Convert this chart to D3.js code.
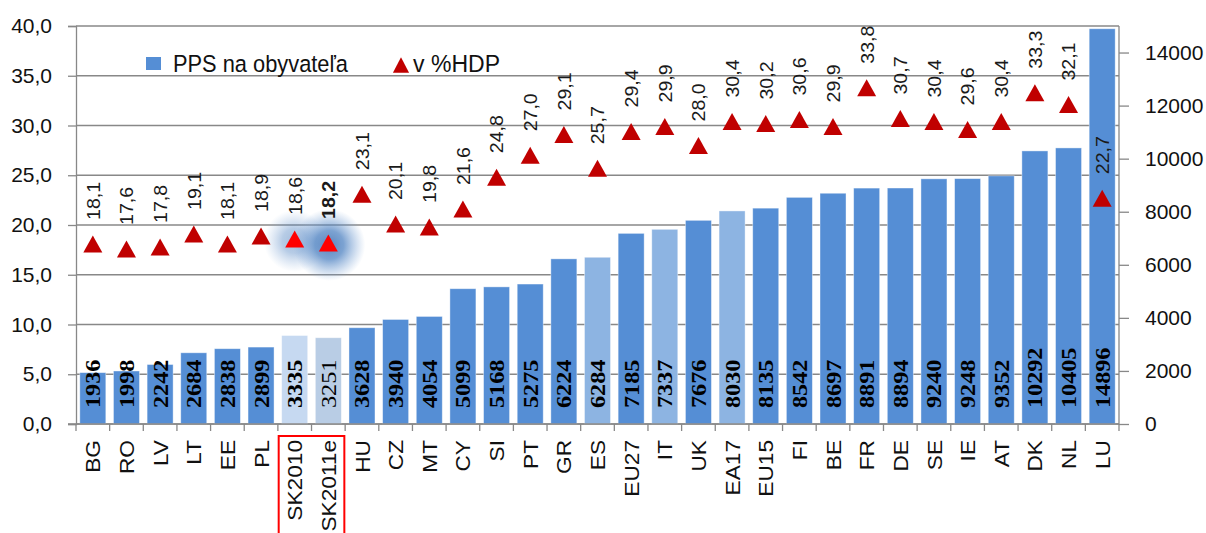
<!DOCTYPE html>
<html><head><meta charset="utf-8">
<script src="https://cdn.jsdelivr.net/npm/d3@7/dist/d3.min.js"></script>
<style>
html,body{margin:0;padding:0;background:#fff;}
svg{display:block;font-family:"Liberation Sans",Arial,sans-serif;}
</style></head>
<body>
<svg id="chart" width="1206" height="533"></svg>
<script>
const categories = ["BG","RO","LV","LT","EE","PL","SK2010","SK2011e","HU","CZ","MT","CY","SI","PT","GR","ES","EU27","IT","UK","EA17","EU15","FI","BE","FR","DE","SE","IE","AT","DK","NL","LU"];
const ppsValues = [1936,1998,2242,2684,2838,2899,3335,3251,3628,3940,4054,5099,5168,5275,6224,6284,7185,7337,7676,8030,8135,8542,8697,8891,8894,9240,9248,9352,10292,10405,14896];
const hdpValues = [18.1,17.6,17.8,19.1,18.1,18.9,18.6,18.2,23.1,20.1,19.8,21.6,24.8,27.0,29.1,25.7,29.4,29.9,28.0,30.4,30.2,30.6,29.9,33.8,30.7,30.4,29.6,30.4,33.3,32.1,22.7];
const leftTicks = [0,5,10,15,20,25,30,35,40];
const rightTicks = [0,2000,4000,6000,8000,10000,12000,14000];
const seriesNames = ["PPS na obyvateľa","v %HDP"];
const lightCats = ["ES","IT","EA17"];

const svg = d3.select("#chart");
const L = 76, R = 1119, T = 26, B = 424;
const x = d3.scaleBand().domain(categories).range([L,R]).paddingInner(0.227).paddingOuter(0.1135);
const yL = d3.scaleLinear().domain([0,40]).range([B,T]);
const yR = d3.scaleLinear().domain([0,15000]).range([B,T]);
const fmt = d3.format(".1f");
const comma = v => fmt(v).replace(".",",");

// defs for glow
const defs = svg.append("defs");
const rg = defs.append("radialGradient").attr("id","glow");
rg.append("stop").attr("offset","0%").attr("stop-color","#3f72b5").attr("stop-opacity",0.95);
rg.append("stop").attr("offset","40%").attr("stop-color","#4a7fc0").attr("stop-opacity",0.8);
rg.append("stop").attr("offset","100%").attr("stop-color","#7aa3d6").attr("stop-opacity",0);

// left axis + gridlines
const gL = svg.append("g").call(d3.axisLeft(yL).tickValues(leftTicks).tickSize(8).tickFormat(comma))
  .attr("transform",`translate(${L},0)`);
gL.select(".domain").attr("stroke","#888").attr("stroke-width",1.3);
gL.selectAll(".tick line").attr("stroke","#888").attr("stroke-width",1.3);
gL.selectAll(".tick text").attr("font-size",21).attr("x",-24).attr("fill","#111")
  .attr("font-family","Liberation Sans, Arial, sans-serif");
svg.append("g").selectAll("line").data(leftTicks).join("line")
  .attr("x1",L).attr("x2",R).attr("y1",d=>yL(d)).attr("y2",d=>yL(d))
  .attr("stroke","#888").attr("stroke-width",1.3);

// right axis
const gR = svg.append("g").attr("transform",`translate(${R},0)`)
  .call(d3.axisRight(yR).tickValues(rightTicks).tickSize(10).tickFormat(d3.format("d")));
gR.select(".domain").attr("stroke","#888").attr("stroke-width",1.3).attr("d",`M0,${T}V${B}`);
gR.selectAll(".tick line").attr("stroke","#888").attr("stroke-width",1.3);
gR.selectAll(".tick text").attr("font-size",21).attr("x",26).attr("fill","#111")
  .attr("font-family","Liberation Sans, Arial, sans-serif");

// bars
const colorOf = c => c==="SK2010" ? "#c6d9f1" : c==="SK2011e" ? "#b9cde5" : lightCats.includes(c) ? "#8db4e2" : "#558ed5";
svg.append("g").selectAll("rect").data(categories).join("rect")
  .attr("x",c=>x(c)).attr("width",x.bandwidth())
  .attr("y",(c,i)=>yR(ppsValues[i])).attr("height",(c,i)=>B-yR(ppsValues[i]))
  .attr("fill",colorOf).attr("stroke","#ffffff").attr("stroke-opacity",0.5).attr("stroke-width",0.8);

// bottom axis
const gB = svg.append("g").attr("transform",`translate(0,${B})`);
gB.append("line").attr("x1",L-8).attr("x2",R).attr("y1",0).attr("y2",0).attr("stroke","#888").attr("stroke-width",1.3);
const bounds = categories.map(c=>x(c)-x.step()*x.paddingInner()/2).concat([R]);
gB.selectAll("line.tk").data(bounds).join("line").attr("class","tk")
  .attr("x1",d=>d).attr("x2",d=>d).attr("y1",0).attr("y2",7).attr("stroke","#888").attr("stroke-width",1.3);
gB.selectAll("text").data(categories).join("text")
  .attr("transform",c=>`translate(${x(c)+x.bandwidth()/2},16) rotate(-90) scale(1.08,1)`)
  .attr("text-anchor","end").attr("dy","0.36em").attr("font-size",21).attr("fill","#111")
  .text(c=>c);

// bar value labels
svg.append("g").selectAll("text").data(categories).join("text")
  .attr("transform",c=>`translate(${x(c)+x.bandwidth()/2},408) rotate(-90) scale(1.1,1)`)
  .attr("dy","0.34em").attr("font-family","Liberation Serif, Times New Roman, serif")
  .attr("font-weight",c=>c==="SK2011e"?"normal":"bold").attr("font-size",22).attr("fill","#000")
  .text((c,i)=>ppsValues[i]);

// glow
svg.append("circle").attr("cx",x(categories[6])+x.bandwidth()/2).attr("cy",yL(hdpValues[6])+2).attr("r",31)
  .attr("fill","url(#glow)").attr("opacity",0.5);
svg.append("circle").attr("cx",x(categories[7])+x.bandwidth()/2+1).attr("cy",yL(hdpValues[7])+2).attr("r",36)
  .attr("fill","url(#glow)").attr("opacity",0.9);

// triangles
const tri = "M0,-8.5L9.5,8.5L-9.5,8.5Z";
svg.append("g").selectAll("path").data(categories).join("path")
  .attr("d",tri)
  .attr("transform",(c,i)=>`translate(${x(c)+x.bandwidth()/2},${yL(hdpValues[i])})`)
  .attr("fill",c=>(c==="SK2010"||c==="SK2011e")?"#ff0000":"#c00000");

// triangle labels
svg.append("g").selectAll("text").data(categories).join("text")
  .attr("transform",(c,i)=>`translate(${x(c)+x.bandwidth()/2},${yL(hdpValues[i])-24}) rotate(-90) scale(1.03,1)`)
  .attr("dy","0.36em").attr("font-size",19).attr("fill","#1a1a1a")
  .attr("font-weight",c=>c==="SK2011e"?"bold":"normal")
  .text((c,i)=>comma(hdpValues[i]));

// legend
const lg = svg.append("g");
lg.append("rect").attr("x",146).attr("y",57).attr("width",15).attr("height",13).attr("fill","#558ed5");
lg.append("text").attr("x",173).attr("y",72).attr("font-size",24.5).attr("fill","#111")
  .attr("textLength",175).attr("lengthAdjust","spacingAndGlyphs").text(seriesNames[0]);
lg.append("path").attr("d",tri).attr("transform","translate(401,65) scale(0.85,0.9)").attr("fill","#c00000");
lg.append("text").attr("x",413).attr("y",72).attr("font-size",24.5).attr("fill","#111")
  .attr("textLength",87).attr("lengthAdjust","spacingAndGlyphs").text(seriesNames[1]);

// red highlight box
svg.append("rect").attr("x",x("SK2010")-3).attr("y",436).attr("width",x("SK2011e")+x.bandwidth()-x("SK2010")+6).attr("height",110)
  .attr("fill","none").attr("stroke","#ff0000").attr("stroke-width",2);
</script>
</body></html>
